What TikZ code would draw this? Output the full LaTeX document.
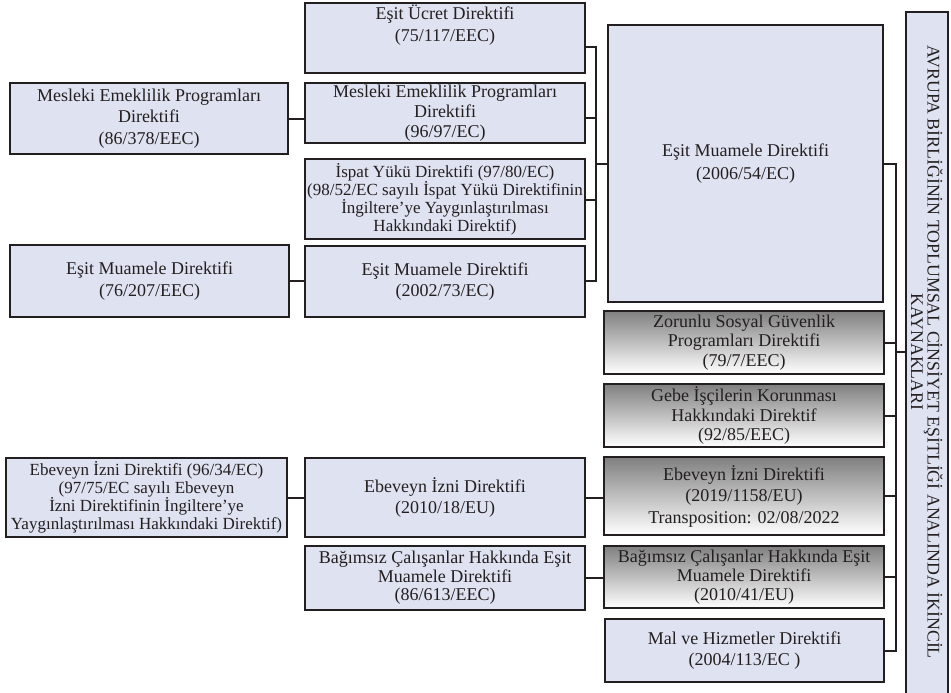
\documentclass[tikz,border=0pt]{standalone}
\usepackage{fontspec}
\setmainfont{Liberation Serif}
\definecolor{boxblue}{HTML}{DFE3F1}
\definecolor{ink}{HTML}{231F20}
\begin{document}
\begin{tikzpicture}[x=1pt,y=-1pt,
  base/.style={draw=ink, line width=2pt, rectangle, inner sep=0pt, align=center,
    text=ink, font=\fontsize{18}{21.5}\selectfont},
  bluebox/.style={base, fill=boxblue},
  greybox/.style={base, top color=black!50, bottom color=white},
  conn/.style={draw=ink, line width=2pt},
  dense/.style={font=\fontsize{17}{18}\selectfont}]
\useasboundingbox (0,0) rectangle (951,693);
% left column
\node[bluebox, minimum width=278pt, minimum height=71pt] (l1) at (149,118.5)
  {Mesleki Emeklilik Programları\\Direktifi\\(86/378/EEC)};
\node[bluebox, minimum width=279pt, minimum height=72pt] (l2) at (149.5,281)
  {Eşit Muamele Direktifi\\(76/207/EEC)};
\node[bluebox, dense, minimum width=281pt, minimum height=79pt] (l3) at (146.5,497.5)
  {Ebeveyn İzni Direktifi (96/34/EC)\\(97/75/EC sayılı Ebeveyn\\İzni Direktifinin İngiltere’ye\\Yaygınlaştırılması Hakkındaki Direktif)};
% middle column
\node[bluebox, minimum width=280pt, minimum height=70pt] (m1) at (445,38)
  {Eşit Ücret Direktifi\\(75/117/EEC)\\[8pt]~};
\node[bluebox, minimum width=280pt, minimum height=60pt, font=\fontsize{18}{20}\selectfont] (m2) at (445,113)
  {Mesleki Emeklilik Programları\\Direktifi\\(96/97/EC)};
\node[bluebox, dense, minimum width=280pt, minimum height=80pt] (m3) at (445,199)
  {İspat Yükü Direktifi (97/80/EC)\\(98/52/EC sayılı İspat Yükü Direktifinin\\İngiltere’ye Yaygınlaştırılması\\Hakkındaki Direktif)};
\node[bluebox, minimum width=280pt, minimum height=71pt] (m4) at (445,281.5)
  {Eşit Muamele Direktifi\\(2002/73/EC)};
\node[bluebox, minimum width=280pt, minimum height=79pt] (m5) at (445,497.5)
  {Ebeveyn İzni Direktifi\\(2010/18/EU)};
\node[bluebox, minimum width=280pt, minimum height=64pt, font=\fontsize{18}{18.5}\selectfont] (m6) at (445,578)
  {Bağımsız Çalışanlar Hakkında Eşit\\Muamele Direktifi\\(86/613/EEC)};
% right column
\node[bluebox, minimum width=275pt, minimum height=277pt, font=\fontsize{18}{23}\selectfont] (r0) at (745.5,163.5)
  {Eşit Muamele Direktifi\\(2006/54/EC)};
\node[greybox, minimum width=280pt, minimum height=63pt, font=\fontsize{18}{19.5}\selectfont] (r1) at (744,342.5)
  {Zorunlu Sosyal Güvenlik\\Programları Direktifi\\(79/7/EEC)};
\node[greybox, minimum width=280pt, minimum height=63pt, font=\fontsize{18}{19.5}\selectfont] (r2) at (744,415.5)
  {Gebe İşçilerin Korunması\\Hakkındaki Direktif\\(92/85/EEC)};
\node[greybox, minimum width=280pt, minimum height=78pt, font=\fontsize{18}{21.5}\selectfont] (r3) at (744,496)
  {Ebeveyn İzni Direktifi\\(2019/1158/EU)\\Transposition: 02/08/2022};
\node[greybox, minimum width=280pt, minimum height=62pt, font=\fontsize{18}{19}\selectfont] (r4) at (744,577)
  {Bağımsız Çalışanlar Hakkında Eşit\\Muamele Direktifi\\(2010/41/EU)};
\node[bluebox, minimum width=279pt, minimum height=63pt] (r5) at (744.5,650.5)
  {Mal ve Hizmetler Direktifi\\(2004/113/EC )};
% vertical title box
\node[bluebox, minimum width=42pt, minimum height=690pt] (v) at (927,357) {};
\node[text=ink, rotate=-90, align=center, font=\fontsize{17.8}{16.5}\selectfont] (vt) at (927,352)
  {AVRUPA BİRLİĞİNİN TOPLUMSAL CİNSİYET EŞİTLİĞİ ANALINDA İKİNCİL\\KAYNAKLARI};
% left to middle connectors
\draw[conn] (l1.east) -- (l1.east -| m2.west);
\draw[conn] (l2.east) -- (l2.east -| m4.west);
\draw[conn] (l3.east) -- (l3.east -| m5.west);
% middle bus to r0
\coordinate (b1a) at (596,47);
\coordinate (b1b) at (596,118);
\coordinate (b1c) at (596,200);
\coordinate (b1d) at (596,281);
\coordinate (b1m) at (596,163.5);
\draw[conn] (m1.east |- b1a) -- (b1a) -- (b1d) -- (m4.east |- b1d);
\draw[conn] (m2.east |- b1b) -- (b1b);
\draw[conn] (m3.east |- b1c) -- (b1c);
\draw[conn] (b1m) -- (r0.west);
% middle to right connectors
\draw[conn] (m5.east) -- (m5.east -| r3.west);
\draw[conn] (m6.east) -- (m6.east -| r4.west);
% right bus to vertical box
\coordinate (b2a) at (896,163.5);
\coordinate (b2f) at (896,650.5);
\coordinate (b2v) at (896,352);
\draw[conn] (r0.east) -- (b2a) -- (b2f) -- (r5.east);
\draw[conn] (r1.east) -- (r1.east -| b2a);
\draw[conn] (r2.east) -- (r2.east -| b2a);
\draw[conn] (r3.east) -- (r3.east -| b2a);
\draw[conn] (r4.east) -- (r4.east -| b2a);
\draw[conn] (b2v) -- (b2v -| v.west);
\end{tikzpicture}
\end{document}
